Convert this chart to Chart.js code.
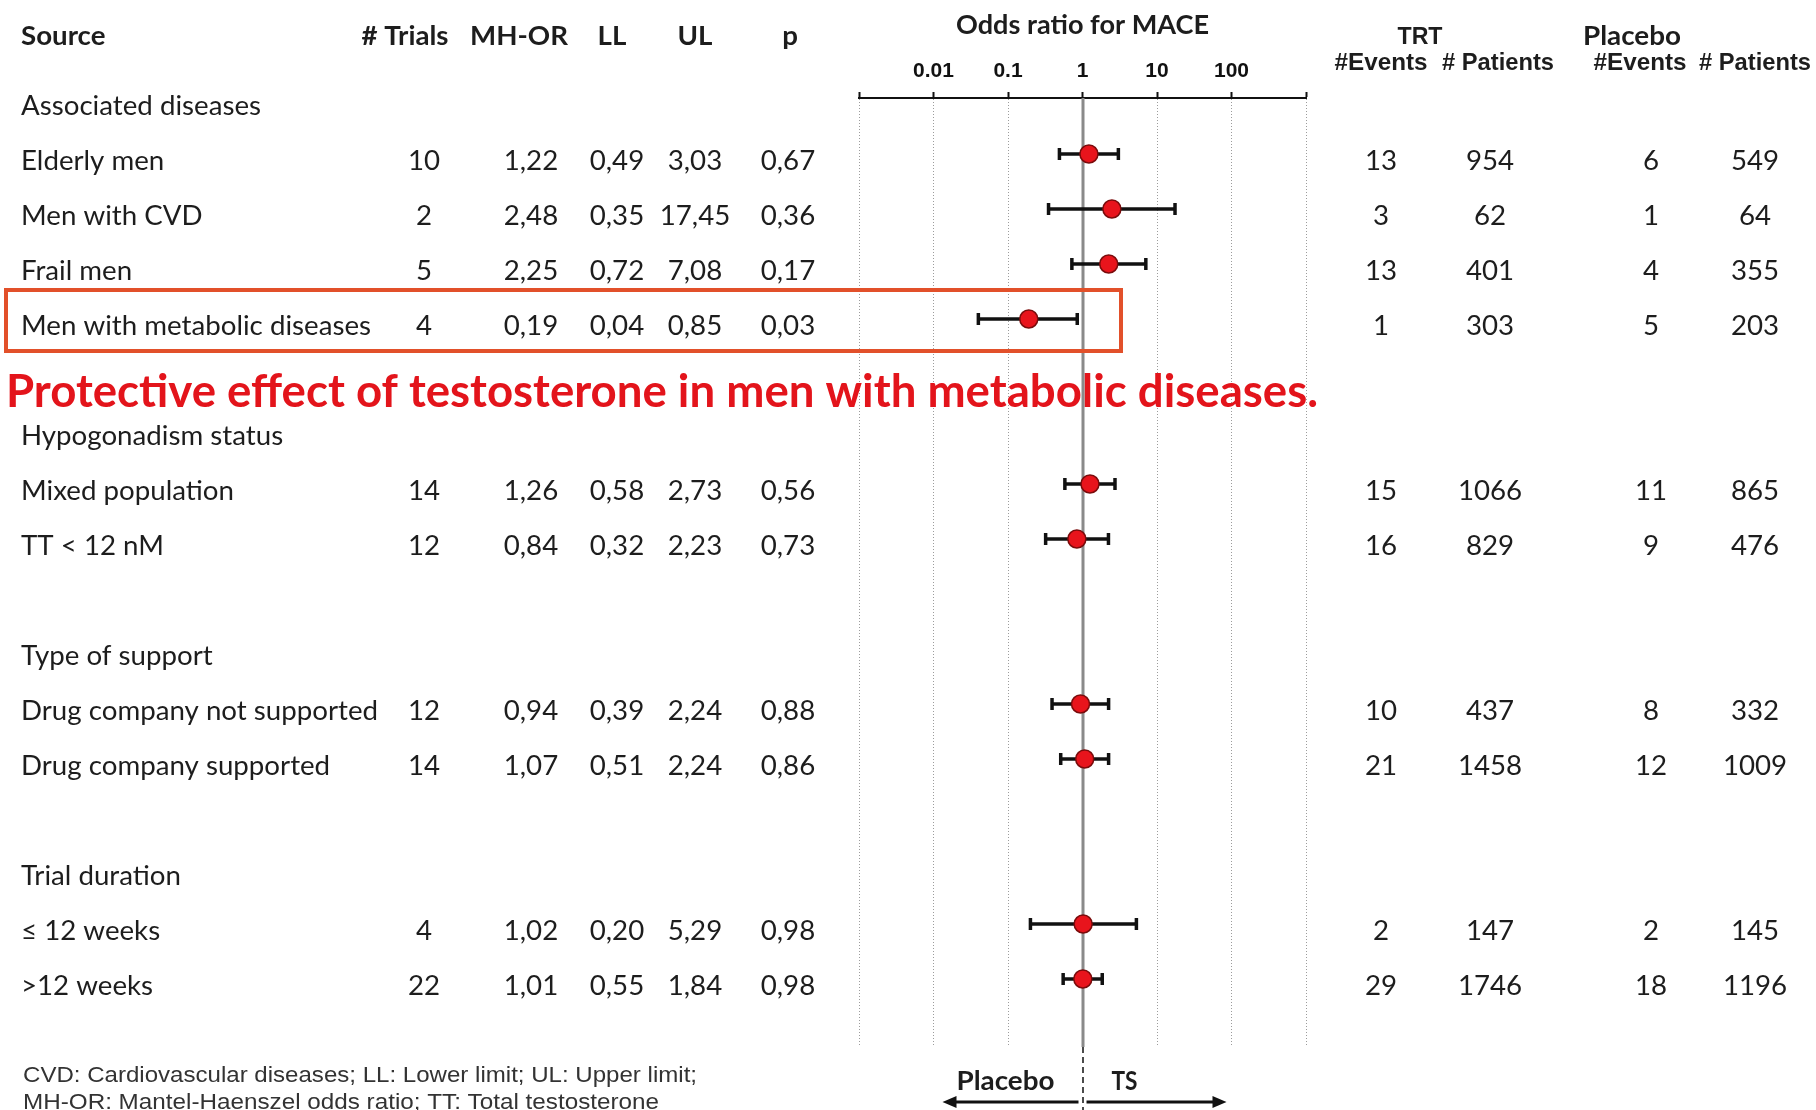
<!DOCTYPE html>
<html>
<head>
<meta charset="utf-8">
<script src="https://cdn.jsdelivr.net/npm/chart.js@4.4.1/dist/chart.umd.min.js"></script>
<style>
  html, body { margin: 0; padding: 0; background: #ffffff; }
  #wrap { width: 1816px; height: 1110px; position: relative; }
  canvas { display: block; }
</style>
</head>
<body>
<div id="wrap"><canvas id="forest" width="1816" height="1110"></canvas></div>
<script>
// Subgroup meta-analysis of MACE: rows of the forest plot
const groupTitles = ['Associated diseases', 'Hypogonadism status', 'Type of support', 'Trial duration'];
const groupRows = [0, 6, 10, 14];

const sources = ['Elderly men', 'Men with CVD', 'Frail men', 'Men with metabolic diseases',
                 'Mixed population', 'TT < 12 nM',
                 'Drug company not supported', 'Drug company supported',
                 '\u2264 12 weeks', '>12 weeks'];
const sourceRows = [1, 2, 3, 4, 7, 8, 11, 12, 15, 16];

const trials = [10, 2, 5, 4, 14, 12, 12, 14, 4, 22];
const mhOR = [1.22, 2.48, 2.25, 0.19, 1.26, 0.84, 0.94, 1.07, 1.02, 1.01];
const lowerLimit = [0.49, 0.35, 0.72, 0.04, 0.58, 0.32, 0.39, 0.51, 0.20, 0.55];
const upperLimit = [3.03, 17.45, 7.08, 0.85, 2.73, 2.23, 2.24, 2.24, 5.29, 1.84];
const pValues = [0.67, 0.36, 0.17, 0.03, 0.56, 0.73, 0.88, 0.86, 0.98, 0.98];

const trtEvents = [13, 3, 13, 1, 15, 16, 10, 21, 2, 29];
const trtPatients = [954, 62, 401, 303, 1066, 829, 437, 1458, 147, 1746];
const placeboEvents = [6, 1, 4, 5, 11, 9, 8, 12, 2, 18];
const placeboPatients = [549, 64, 355, 203, 865, 476, 332, 1009, 145, 1196];

// Odds-ratio axis
const oddsTicks = [0.001, 0.01, 0.1, 1, 10, 100, 1000];
const oddsTickLabels = ['', '0.01', '0.1', '1', '10', '100', ''];

const highlightRow = 4;
const noteText = 'Protective effect of testosterone in men with metabolic diseases.';
const footnotes = ['CVD: Cardiovascular diseases; LL: Lower limit; UL: Upper limit;',
                   'MH-OR: Mantel-Haenszel odds ratio; TT: Total testosterone'];

const fmt = v => v.toFixed(2).replace('.', ',');

// text helper: optional horizontal squeeze so that a string fills a given width
function putText(ctx, str, x, y, font, opts) {
  opts = opts || {};
  ctx.save();
  ctx.font = font;
  ctx.fillStyle = opts.color || '#1d1d1d';
  ctx.textBaseline = 'middle';
  ctx.textAlign = 'left';
  const w = ctx.measureText(str).width;
  const sx = opts.width ? opts.width / w : (opts.sx || 1);
  const dw = w * sx;
  let left = x;
  if (opts.align === 'center') left = x - dw / 2;
  else if (opts.align === 'right') left = x - dw;
  ctx.translate(left, y);
  ctx.scale(sx, 1);
  ctx.fillText(str, 0, 0);
  ctx.restore();
}

const BODY = '26px Lato';
const BODY_BOLD = 'bold 26px Lato';
const NARROW_BOLD = 'bold 24px "Liberation Sans"';
const NARROW = '22px "Liberation Sans"';

const tablePlugin = {
  id: 'forestTable',
  beforeDraw(chart) {
    const c = chart.ctx;
    c.save();
    c.fillStyle = '#ffffff';
    c.fillRect(0, 0, chart.width, chart.height);
    c.restore();
  },
  beforeDatasetsDraw(chart) {
    const c = chart.ctx;
    const x = chart.scales.x, y = chart.scales.y;
    const area = chart.chartArea;

    // red remark across the table
    putText(c, noteText, 6, y.getPixelForValue(5) + 18, 'bold 46px Lato', { color: '#e3141b', width: 1312 });

    // line of no effect
    const x1 = Math.round(x.getPixelForValue(1));
    c.save();
    c.strokeStyle = '#8a8a8a';
    c.lineWidth = 3;
    c.beginPath();
    c.moveTo(x1, area.top);
    c.lineTo(x1, area.bottom);
    c.stroke();
    c.strokeStyle = '#111';
    c.lineWidth = 1.5;
    c.setLineDash([6, 4]);
    c.beginPath();
    c.moveTo(x1, area.bottom);
    c.lineTo(x1, chart.height);
    c.stroke();
    c.restore();
  },
  afterDraw(chart) {
    const c = chart.ctx;
    const x = chart.scales.x, y = chart.scales.y;
    c.save();
    c.font = BODY;
    const bodySX = 350 / c.measureText('Men with metabolic diseases').width;
    c.restore();
    const T = 7.5; // visual centre of text sits a little below the marker row

    // column headers
    putText(c, 'Source', 21, 37, BODY_BOLD, { sx: bodySX });
    putText(c, '# Trials', 405, 37, BODY_BOLD, { sx: bodySX, align: 'center' });
    putText(c, 'MH-OR', 519, 37, BODY_BOLD, { sx: bodySX, align: 'center' });
    putText(c, 'LL', 612, 37, BODY_BOLD, { sx: bodySX, align: 'center' });
    putText(c, 'UL', 695, 37, BODY_BOLD, { sx: bodySX, align: 'center' });
    putText(c, 'p', 790, 37, BODY_BOLD, { sx: bodySX, align: 'center' });
    putText(c, 'Odds ratio for MACE', x.getPixelForValue(1), 26, BODY_BOLD, { width: 253, align: 'center' });
    putText(c, 'TRT', 1420, 37, NARROW_BOLD, { width: 45, align: 'center' });
    putText(c, 'Placebo', 1632, 37, BODY_BOLD, { width: 98, align: 'center' });
    putText(c, '#Events', 1381, 63, NARROW_BOLD, { width: 93, align: 'center' });
    putText(c, '# Patients', 1498, 63, NARROW_BOLD, { width: 112, align: 'center' });
    putText(c, '#Events', 1640, 63, NARROW_BOLD, { width: 93, align: 'center' });
    putText(c, '# Patients', 1755, 63, NARROW_BOLD, { width: 112, align: 'center' });

    // subgroup titles
    groupTitles.forEach((g, i) => {
      putText(c, g, 21, y.getPixelForValue(groupRows[i]) + T, BODY, { sx: bodySX });
    });

    // study rows
    sources.forEach((s, i) => {
      const py = y.getPixelForValue(sourceRows[i]) + T;
      putText(c, s, 21, py, BODY, { sx: bodySX });
      putText(c, String(trials[i]), 424, py, BODY, { sx: bodySX, align: 'center' });
      putText(c, fmt(mhOR[i]), 531, py, BODY, { sx: bodySX, align: 'center' });
      putText(c, fmt(lowerLimit[i]), 617, py, BODY, { sx: bodySX, align: 'center' });
      putText(c, fmt(upperLimit[i]), 695, py, BODY, { sx: bodySX, align: 'center' });
      putText(c, fmt(pValues[i]), 788, py, BODY, { sx: bodySX, align: 'center' });
      putText(c, String(trtEvents[i]), 1381, py, BODY, { sx: bodySX, align: 'center' });
      putText(c, String(trtPatients[i]), 1490, py, BODY, { sx: bodySX, align: 'center' });
      putText(c, String(placeboEvents[i]), 1651, py, BODY, { sx: bodySX, align: 'center' });
      putText(c, String(placeboPatients[i]), 1755, py, BODY, { sx: bodySX, align: 'center' });
    });

    // highlight box round the metabolic-disease row
    const hy = y.getPixelForValue(highlightRow);
    c.save();
    c.strokeStyle = '#e2502a';
    c.lineWidth = 4;
    c.strokeRect(6, hy - 29, 1115, 61);
    c.restore();

    // footnotes
    putText(c, footnotes[0], 23, 1076, NARROW, { color: '#333', width: 674 });
    putText(c, footnotes[1], 23, 1103, NARROW, { color: '#333', width: 636 });

    // direction of effect
    const x1 = x.getPixelForValue(1);
    putText(c, 'Placebo', x1 - 77, 1082, BODY_BOLD, { width: 98, align: 'center' });
    putText(c, 'TS', x1 + 42, 1082, BODY_BOLD, { width: 26, align: 'center' });
    c.save();
    c.strokeStyle = '#111';
    c.fillStyle = '#111';
    c.lineWidth = 3;
    const ay = 1102;
    c.beginPath(); c.moveTo(x1 - 4, ay); c.lineTo(x1 - 128, ay); c.stroke();
    c.beginPath(); c.moveTo(x1 - 140, ay); c.lineTo(x1 - 126, ay - 6); c.lineTo(x1 - 126, ay + 6); c.closePath(); c.fill();
    c.beginPath(); c.moveTo(x1 + 4, ay); c.lineTo(x1 + 132, ay); c.stroke();
    c.beginPath(); c.moveTo(x1 + 144, ay); c.lineTo(x1 + 130, ay - 6); c.lineTo(x1 + 130, ay + 6); c.closePath(); c.fill();
    c.restore();
  }
};

// confidence-interval whiskers, one line per study
const ciDatasets = sources.map((s, i) => ({
  label: s + ' CI',
  data: [{ x: lowerLimit[i], y: sourceRows[i] }, { x: upperLimit[i], y: sourceRows[i] }],
  showLine: true,
  borderColor: '#111111',
  borderWidth: 3.5,
  pointStyle: 'line',
  pointRotation: 90,
  pointRadius: 6,
  pointBorderWidth: 3.5,
  pointBorderColor: '#111111',
  order: 2
}));

const orDataset = {
  label: 'MH-OR',
  data: sources.map((s, i) => ({ x: mhOR[i], y: sourceRows[i] })),
  pointRadius: 9,
  pointBackgroundColor: '#e8141c',
  pointBorderColor: '#7a0b0b',
  pointBorderWidth: 1.5,
  order: 1
};

new Chart(document.getElementById('forest'), {
  type: 'scatter',
  data: { datasets: [orDataset].concat(ciDatasets) },
  options: {
    responsive: false,
    animation: false,
    layout: { padding: { left: 859, right: 510, top: 0, bottom: 63 } },
    plugins: { legend: { display: false }, tooltip: { enabled: false } },
    scales: {
      x: {
        type: 'logarithmic',
        position: 'top',
        min: 0.001,
        max: 1000,
        afterBuildTicks: s => { s.ticks = oddsTicks.map(v => ({ value: v })); },
        afterFit: s => { s.height = 98; },
        ticks: {
          autoSkip: false,
          maxRotation: 0,
          padding: 8,
          color: '#111',
          font: { family: '"Liberation Sans"', weight: 'bold', size: 21 },
          callback: (v, i) => oddsTickLabels[i]
        },
        grid: {
          color: '#9c9c9c',
          lineWidth: 1,
          drawTicks: true,
          tickLength: 6,
          tickColor: '#111',
          tickWidth: 2
        },
        border: { display: true, color: '#111', width: 2, dash: [1, 2] }
      },
      y: {
        type: 'linear',
        display: false,
        reverse: true,
        min: -0.018,
        max: 17.236
      }
    }
  },
  plugins: [tablePlugin]
});
</script>
</body>
</html>
